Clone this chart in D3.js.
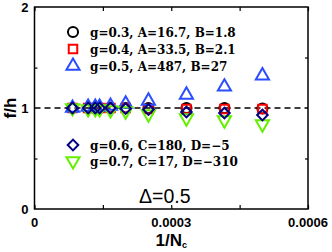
<!DOCTYPE html>
<html><head><meta charset="utf-8">
<script src="https://cdn.jsdelivr.net/npm/d3@7"></script>
<style>body{margin:0;background:#fff}svg{display:block}</style>
</head><body>
<script>
const xValues = [1/12000, 1/8500, 1/7500, 1/7000, 1/6000, 1/5000, 1/4000, 1/3000, 1/2400, 1/2000];
const seriesG03 = [1.0, 1.0, 1.0, 1.0, 1.0, 1.0, 1.0, 1.0, 1.0, 0.995];
const seriesG04 = [1.0, 1.0, 1.0, 1.0, 1.0, 1.0, 0.99, 0.99, 0.99, 0.99];
const seriesG05 = [1.0, 1.01, 1.01, 1.01, 1.02, 1.04, 1.07, 1.13, 1.21, 1.32];
const seriesG06 = [1.0, 1.0, 1.0, 1.0, 1.0, 0.995, 0.985, 0.96, 0.95, 0.93];
const seriesG07 = [1.0, 0.99, 0.99, 0.99, 0.98, 0.97, 0.94, 0.90, 0.88, 0.84];
const legendLabels = ["g=0.3, A=16.7, B=1.8", "g=0.4, A=33.5, B=2.1", "g=0.5, A=487, B=27", "g=0.6, C=180, D=\u22125", "g=0.7, C=17, D=\u2212310"];
const xTicks = [0, 0.0003, 0.0006];
const xTickLabels = ["0", "0.0003", "0.0006"];
const xMinor = [0.00015, 0.00045];
const yTicks = [0, 1, 2];
const yTickLabels = ["0", "1", "2"];
const annotation = "\u0394=0.5";

(function () {
const W = 332, H = 252;
const m = {l: 34.5, r: 24, t: 7, b: 43};
const svg = d3.select("body").append("svg").attr("width", W).attr("height", H);
const x = d3.scaleLinear().domain([0, 0.0006]).range([m.l, W - m.r]);
const y = d3.scaleLinear().domain([0, 2]).range([H - m.b, m.t]);

const sans = "'Liberation Sans', Arial, sans-serif";
const serif = "'DejaVu Serif', serif";

svg.append("line").attr("x1", x(0)).attr("x2", x(0.0006)).attr("y1", y(1)).attr("y2", y(1))
  .attr("stroke", "#000").attr("stroke-width", 1.5).attr("stroke-dasharray", "6,4");

svg.append("rect").attr("x", x(0)).attr("y", y(2)).attr("width", x(0.0006) - x(0)).attr("height", y(0) - y(2))
  .attr("fill", "none").attr("stroke", "#000").attr("stroke-width", 1.5);

const gBottom = svg.append("g").attr("transform", `translate(0,${y(0)})`)
  .call(d3.axisBottom(x).tickValues(xTicks.concat(xMinor)).tickSize(-4).tickFormat(""));
const gTop = svg.append("g").attr("transform", `translate(0,${y(2)})`)
  .call(d3.axisTop(x).tickValues(xTicks.concat(xMinor)).tickSize(-4).tickFormat(""));
const gLeft = svg.append("g").attr("transform", `translate(${x(0)},0)`)
  .call(d3.axisLeft(y).tickValues([0.5, 1.4]).tickSize(-3).tickFormat(""));
const gRight = svg.append("g").attr("transform", `translate(${x(0.0006)},0)`)
  .call(d3.axisRight(y).tickValues([0.5, 1.5]).tickSize(-3).tickFormat(""));
[gBottom, gTop, gLeft, gRight].forEach(g => { g.select(".domain").remove(); g.selectAll("line").attr("stroke-width", 1.2); });

svg.append("g").selectAll("text").data(xTicks).join("text")
  .attr("x", d => x(d)).attr("y", y(0) + 18).attr("text-anchor", "middle")
  .attr("font-family", sans).attr("font-weight", "bold").attr("font-size", 13)
  .text((d, i) => xTickLabels[i]);
svg.append("g").selectAll("text").data(yTicks).join("text")
  .attr("x", x(0) - 6).attr("y", d => y(d) + 5).attr("text-anchor", "end")
  .attr("font-family", sans).attr("font-weight", "bold").attr("font-size", 13)
  .text((d, i) => yTickLabels[i]);

const xt = svg.append("text").attr("x", x(0.0003)).attr("y", 246).attr("text-anchor", "middle")
  .attr("font-family", sans).attr("font-weight", "bold").attr("font-size", 17);
xt.append("tspan").text("1/N");
xt.append("tspan").attr("font-size", 9).attr("dy", 2).text("c");
svg.append("text").attr("transform", `translate(16,${y(1)}) rotate(-90)`).attr("text-anchor", "middle")
  .attr("font-family", sans).attr("font-weight", "bold").attr("font-size", 17).text("f/h");

const tri = d3.symbol().type(d3.symbolTriangle).size(75);
function drawMarker(g, cx, cy, kind, color) {
  const s = g.append("path").attr("fill", "none").attr("stroke", color).attr("stroke-width", 2);
  if (kind === "circle") s.attr("d", d3.symbol().type(d3.symbolCircle).size(80)()).attr("transform", `translate(${cx},${cy})`);
  if (kind === "square") s.attr("d", d3.symbol().type(d3.symbolSquare).size(72)()).attr("transform", `translate(${cx},${cy})`);
  if (kind === "tri") s.attr("d", tri()).attr("transform", `translate(${cx},${cy})`);
  if (kind === "invtri") s.attr("d", tri()).attr("transform", `translate(${cx},${cy}) rotate(180)`);
  if (kind === "diamond") s.attr("d", d3.symbol().type(d3.symbolSquare).size(56)()).attr("transform", `translate(${cx},${cy}) rotate(45)`);
}
function drawSeries(vals, kind, color) {
  const g = svg.append("g");
  vals.forEach((v, i) => drawMarker(g, x(xValues[i]), y(v), kind, color));
}
const colors = ["#000000", "#ff0000", "#2a4dff", "#000080", "#66ee00"];
drawSeries(seriesG03, "circle", colors[0]);
drawSeries(seriesG04, "square", colors[1]);
drawSeries(seriesG05, "tri", colors[2]);
drawSeries(seriesG07, "invtri", colors[4]);
drawSeries(seriesG06, "diamond", colors[3]);

const kinds = ["circle", "square", "tri", "diamond", "invtri"];
const legY = [32, 49, 66, 145, 161];
const lg = svg.append("g");
legendLabels.forEach((t, i) => {
  drawMarker(lg, 73, legY[i], kinds[i], colors[i]);
  lg.append("text").attr("x", 90).attr("y", legY[i] + 4.5)
    .attr("font-family", serif).attr("font-weight", "bold").attr("font-size", 12).text(t);
});

svg.append("text").attr("x", 139).attr("y", 203).attr("font-family", sans).attr("font-size", 19.5).text(annotation);
})();
</script>
</body></html>
